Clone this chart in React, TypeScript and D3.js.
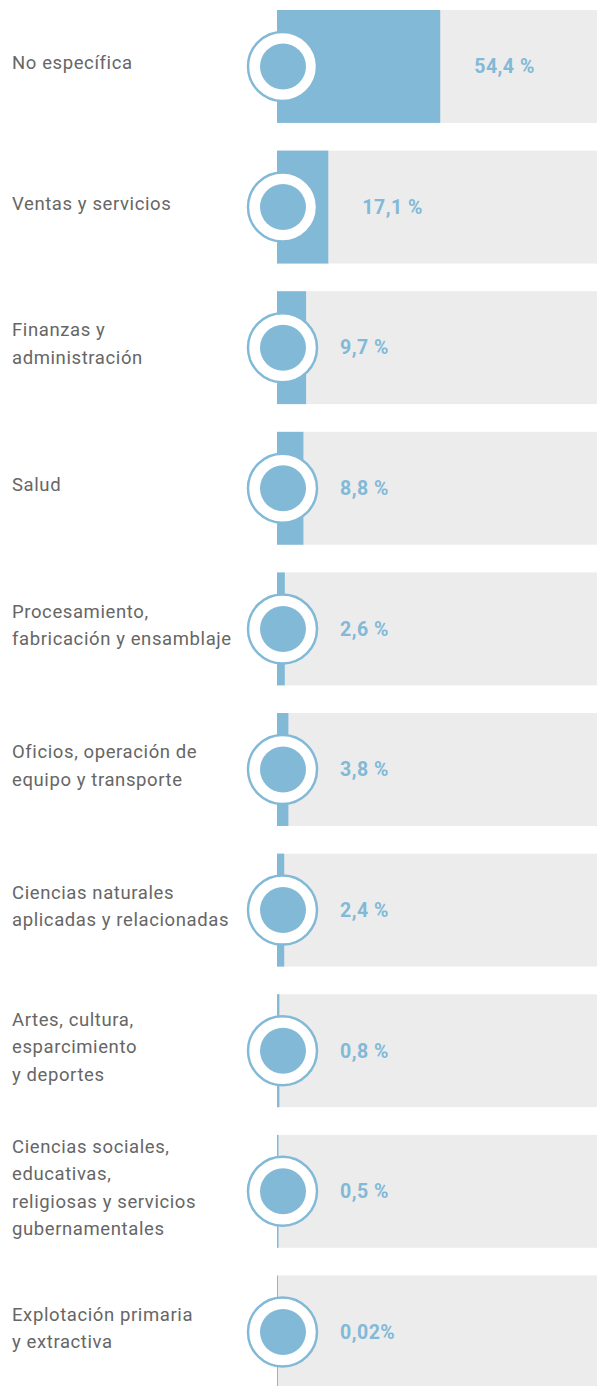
import React, { useRef, useEffect } from 'react';
import * as d3 from 'd3';

const categories = [
  'No específica',
  'Ventas y servicios',
  'Finanzas y\nadministración',
  'Salud',
  'Procesamiento,\nfabricación y ensamblaje',
  'Oficios, operación de\nequipo y transporte',
  'Ciencias naturales\naplicadas y relacionadas',
  'Artes, cultura,\nesparcimiento\ny deportes',
  'Ciencias sociales,\neducativas,\nreligiosas y servicios\ngubernamentales',
  'Explotación primaria\ny extractiva',
];
const values = [54.4, 17.1, 9.7, 8.8, 2.6, 3.8, 2.4, 0.8, 0.5, 0.02];
const valueLabels = ['54,4 %', '17,1 %', '9,7 %', '8,8 %', '2,6 %', '3,8 %', '2,4 %', '0,8 %', '0,5 %', '0,02%'];

const BLUE = '#82b9d7';
const GREY = '#ececec';
const TEXT = '#666666';

const App = () => {
  const svgRef = useRef<SVGSVGElement>(null);

  useEffect(() => {
    const width = 597;
    const height = 1386;
    const barLeft = 277;
    const svg = d3.select(svgRef.current);
    svg.selectAll('*').remove();

    // rows
    const y = d3.scaleBand<string>()
      .domain(categories)
      .range([10, 10 + 9 * 140.6 + 113])
      .paddingInner(0.197)
      .paddingOuter(0);

    // share -> bar length
    const x = d3.scaleLinear().domain([0, 100]).range([0, 300]);

    const rows = svg.selectAll('g.row')
      .data(categories)
      .enter()
      .append('g')
      .attr('class', 'row');

    // grey track
    rows.append('rect')
      .attr('x', barLeft)
      .attr('y', d => y(d)!)
      .attr('width', width - barLeft)
      .attr('height', y.bandwidth())
      .attr('fill', GREY);

    // value bar (at least 1px so tiny shares still show)
    rows.append('rect')
      .attr('x', barLeft)
      .attr('y', d => y(d)!)
      .attr('width', (d, i) => Math.max(1, x(values[i])))
      .attr('height', y.bandwidth())
      .attr('fill', BLUE);

    const cy = (d: string) => y(d)! + y.bandwidth() / 2;

    // ring marker
    rows.append('circle')
      .attr('cx', 282.5)
      .attr('cy', cy)
      .attr('r', 34.5)
      .attr('fill', '#fff')
      .attr('stroke', BLUE)
      .attr('stroke-width', 2.5);

    rows.append('circle')
      .attr('cx', 283)
      .attr('cy', cy)
      .attr('r', 23)
      .attr('fill', BLUE);

    // percentage labels
    rows.append('text')
      .attr('x', (d, i) => Math.max(barLeft + x(values[i]) + 34, 340))
      .attr('y', cy)
      .attr('dy', '0.35em')
      .attr('fill', BLUE)
      .attr('font-family', 'Roboto, sans-serif')
      .attr('font-weight', 700)
      .attr('font-size', 19.5)
      .attr('letter-spacing', 0.5)
      .text((d, i) => valueLabels[i]);

    // category labels, multi-line, centred on the row
    const lineH = 27.5;
    rows.append('text')
      .attr('fill', TEXT)
      .attr('font-family', 'Roboto, sans-serif')
      .attr('font-size', 18.5)
      .attr('font-weight', 400)
      .attr('letter-spacing', 0.6)
      .each(function (d) {
        const lines = d.split('\n');
        const t = d3.select(this);
        const start = cy(d) - ((lines.length - 1) * lineH) / 2 - 4;
        lines.forEach((l, k) => {
          t.append('tspan')
            .attr('x', 12)
            .attr('y', start + k * lineH)
            .attr('dy', '0.35em')
            .text(l);
        });
      });

    svg.attr('viewBox', `0 0 ${width} ${height}`);
  }, []);

  return (
    <svg
      ref={svgRef}
      width={597}
      height={1386}
      style={{ position: 'absolute', left: 0, top: 0, display: 'block', background: '#fff' }}
    />
  );
};

export default App;
